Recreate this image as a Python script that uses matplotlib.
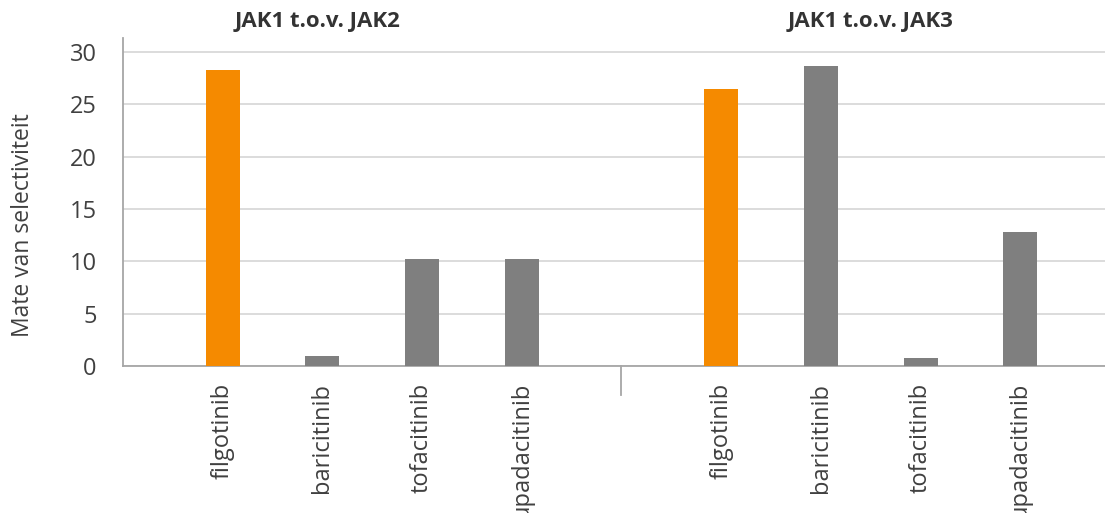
import matplotlib.pyplot as plt

plt.rcParams['font.family'] = ['Open Sans', 'DejaVu Sans']

# data
medicijnen = ["filgotinib", "baricitinib", "tofacitinib", "upadacitinib"]
jak2 = [28.3, 1.0, 10.2, 10.2]
jak3 = [26.5, 28.7, 0.8, 12.8]
groepen = ["JAK1 t.o.v. JAK2", "JAK1 t.o.v. JAK3"]
kleuren = ["#F58A00", "#7F7F7F", "#7F7F7F", "#7F7F7F"]

pos_links = [1, 2, 3, 4]
pos_rechts = [6, 7, 8, 9]

fig = plt.figure(figsize=(11.05, 5.13), dpi=100)
ax = fig.add_axes([123 / 1105, 1 - 366 / 513, (1105 - 123) / 1105, (366 - 38) / 513])

ax.bar(pos_links, jak2, width=0.34, color=kleuren, zorder=3)
ax.bar(pos_rechts, jak3, width=0.34, color=kleuren, zorder=3)

ax.set_xlim(0, 9.85)
ax.set_ylim(0, 31.35)
ax.set_yticks(range(0, 31, 5))
ax.grid(axis="y", color="#D9D9D9", linewidth=1.3, zorder=0)

ax.set_xticks(pos_links + pos_rechts)
ax.set_xticklabels(medicijnen + medicijnen, rotation=90, fontsize=17, color="#404040")
ax.tick_params(axis="x", length=0, pad=12)
ax.tick_params(axis="y", length=0, pad=19, labelsize=17, labelcolor="#404040")

# scheidingsstreepje tussen de groepen
ax.plot([5, 5], [0, -2.8], color="#A6A6A6", linewidth=1.3, clip_on=False)

for s in ["top", "right"]:
    ax.spines[s].set_visible(False)
for s in ["left", "bottom"]:
    ax.spines[s].set_color("#A6A6A6")
    ax.spines[s].set_linewidth(1.3)

ax.set_ylabel("Mate van selectiviteit", fontsize=16.5, color="#404040")
ax.yaxis.set_label_coords(-0.09, 0.43)

ax.text(1.95, 32.9, groepen[0], ha="center", va="center", fontsize=16, fontweight="bold", color="#333333")
ax.text(7.5, 32.9, groepen[1], ha="center", va="center", fontsize=16, fontweight="bold", color="#333333")

plt.savefig("out.png", dpi=100)
